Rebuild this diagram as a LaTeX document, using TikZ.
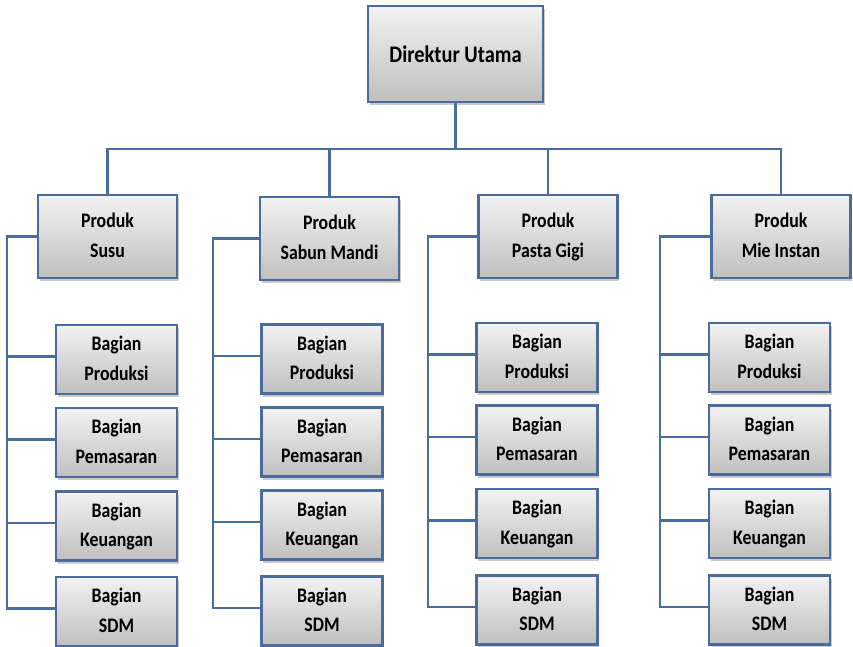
\documentclass[tikz,border=0pt]{standalone}
\usepackage{fontspec}
\usepackage{graphicx}
\setmainfont{Carlito}
\usetikzlibrary{shadows}
\definecolor{bordc}{HTML}{4A6B9C}
\definecolor{linec}{HTML}{4A6D9E}
\newcommand\twol[2]{\scalebox{1}[1.16]{\begin{tabular}{@{}c@{}}#1\\#2\end{tabular}}}
\newcommand\onel[1]{\scalebox{1}[1.16]{#1}}
\tikzset{
  box/.style={draw=bordc, line width=2.8pt, rectangle, align=center,
    top color=black!5, bottom color=black!25, inner sep=1pt,
    font=\bfseries\fontsize{17.8}{25.5}\selectfont,
    drop shadow={shadow xshift=1.5pt, shadow yshift=-3pt, opacity=0.35, fill=black!60}},
  topbox/.style={box, minimum width=175pt, minimum height=96pt, font=\bfseries\fontsize{20.5}{29}\selectfont},
  prodbox/.style={box, minimum width=139pt, minimum height=83pt},
  subbox/.style={box, minimum width=121pt, minimum height=69pt},
  conn/.style={draw=linec, line width=2.8pt}
}
\begin{document}
\begin{tikzpicture}[x=1pt,y=-1pt]
\useasboundingbox (0,0) rectangle (853,647);
\coordinate (busy) at (0,149);
\coordinate (sp1) at (7,0);
\coordinate (sp2) at (213,0);
\coordinate (sp3) at (428,0);
\coordinate (sp4) at (660,0);

\node[topbox] (top) at (455.5,54) {\onel{Direktur Utama}};
\node[prodbox] (p1) at (107.5,236.5) {\twol{Produk}{Susu}};
\node[prodbox] (p2) at (329.5,238.5) {\twol{Produk}{Sabun Mandi}};
\node[prodbox] (p3) at (548,236.5) {\twol{Produk}{Pasta Gigi}};
\node[prodbox] (p4) at (781,236.5) {\twol{Produk}{Mie Instan}};

\foreach \c/\x/\ya/\yb/\yc/\yd in {1/116.5/359.5/442.5/526/611.5, 2/322/359/442/525/611, 3/537/357.5/440/523.5/610, 4/769.5/357.5/440/523.5/610}{
  \node[subbox] (a\c) at (\x,\ya) {\twol{Bagian}{Produksi}};
  \node[subbox] (b\c) at (\x,\yb) {\twol{Bagian}{Pemasaran}};
  \node[subbox] (k\c) at (\x,\yc) {\twol{Bagian}{Keuangan}};
  \node[subbox] (s\c) at (\x,\yd) {\twol{Bagian}{SDM}};
  \coordinate (ea\c) at ([yshift=3pt]a\c.west);
  \coordinate (eb\c) at ([yshift=3pt]b\c.west);
  \coordinate (ek\c) at ([yshift=3pt]k\c.west);
  \coordinate (es\c) at ([yshift=3pt]s\c.west);
}

\path[conn] (top.south) -- (top.south |- busy);
\path[conn] (p1.north) |- (p4.north |- busy) -- (p4.north);
\path[conn] (p2.north) -- (p2.north |- busy);
\path[conn] (p3.north) -- (p3.north |- busy);

\foreach \c in {1,2,3,4}{
  \path[conn] (p\c.west) -| (sp\c |- es\c) -- (es\c);
  \path[conn] (sp\c |- ea\c) -- (ea\c);
  \path[conn] (sp\c |- eb\c) -- (eb\c);
  \path[conn] (sp\c |- ek\c) -- (ek\c);
}
\end{tikzpicture}
\end{document}
